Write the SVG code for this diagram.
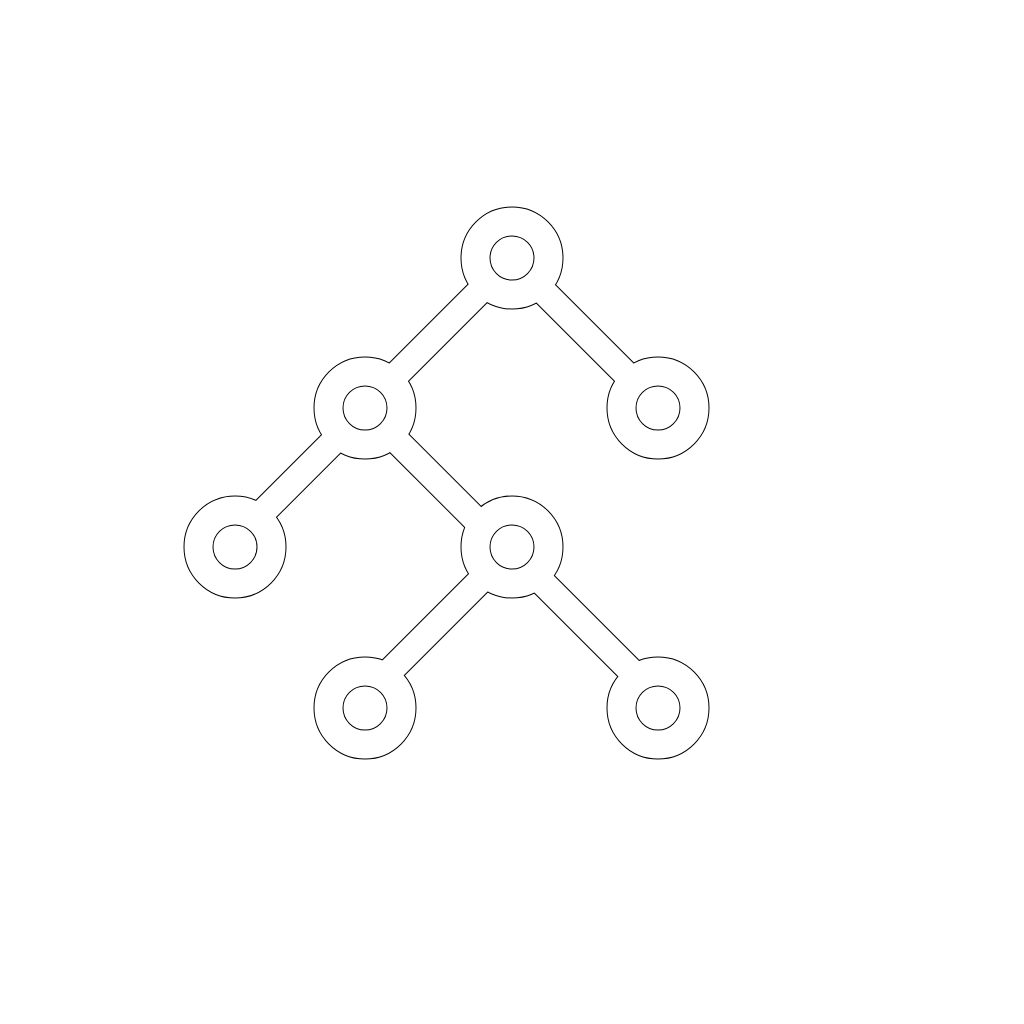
<svg xmlns="http://www.w3.org/2000/svg" width="1024" height="1024" viewBox="0 0 1024 1024">
<style>
.eo{stroke:#000;stroke-width:27.5;fill:none;stroke-linecap:butt}
.ef{stroke:#fff;stroke-width:25.5;fill:none;stroke-linecap:butt}
.ro{stroke:#000;stroke-width:30;fill:none}
.rf{stroke:#fff;stroke-width:28;fill:none}
</style>
<rect width="1024" height="1024" fill="#fff"/>
<g id="connectors-outline">
<line class="eo" x1="487" y1="284" x2="389.5" y2="381.5"/>
<line class="eo" x1="536.5" y1="284.5" x2="633.5" y2="381.5"/>
<line class="eo" x1="340.5" y1="434.5" x2="257" y2="518"/>
<line class="eo" x1="390" y1="434" x2="482" y2="526"/>
<line class="eo" x1="487.5" y1="573.5" x2="384.5" y2="676.5"/>
<line class="eo" x1="535" y1="575" x2="637.5" y2="677.5"/>
</g>
<g id="node-root"><circle class="ro" cx="512" cy="258" r="36.5"/><circle class="rf" cx="512" cy="258" r="36.5"/></g>
<g id="node-l"><circle class="ro" cx="365" cy="408" r="36.5"/><circle class="rf" cx="365" cy="408" r="36.5"/></g>
<g id="node-r"><circle class="ro" cx="658" cy="408" r="36.5"/><circle class="rf" cx="658" cy="408" r="36.5"/></g>
<g id="node-ll"><circle class="ro" cx="235" cy="547" r="36.5"/><circle class="rf" cx="235" cy="547" r="36.5"/></g>
<g id="node-lr"><circle class="ro" cx="512" cy="547" r="36.5"/><circle class="rf" cx="512" cy="547" r="36.5"/></g>
<g id="node-lrl"><circle class="ro" cx="365" cy="708" r="36.5"/><circle class="rf" cx="365" cy="708" r="36.5"/></g>
<g id="node-lrr"><circle class="ro" cx="658" cy="708" r="36.5"/><circle class="rf" cx="658" cy="708" r="36.5"/></g>
<g id="connectors">
<line class="ef" x1="487" y1="284" x2="389.5" y2="381.5"/>
<line class="ef" x1="536.5" y1="284.5" x2="633.5" y2="381.5"/>
<line class="ef" x1="340.5" y1="434.5" x2="257" y2="518"/>
<line class="ef" x1="390" y1="434" x2="482" y2="526"/>
<line class="ef" x1="487.5" y1="573.5" x2="384.5" y2="676.5"/>
<line class="ef" x1="535" y1="575" x2="637.5" y2="677.5"/>
</g>
</svg>
